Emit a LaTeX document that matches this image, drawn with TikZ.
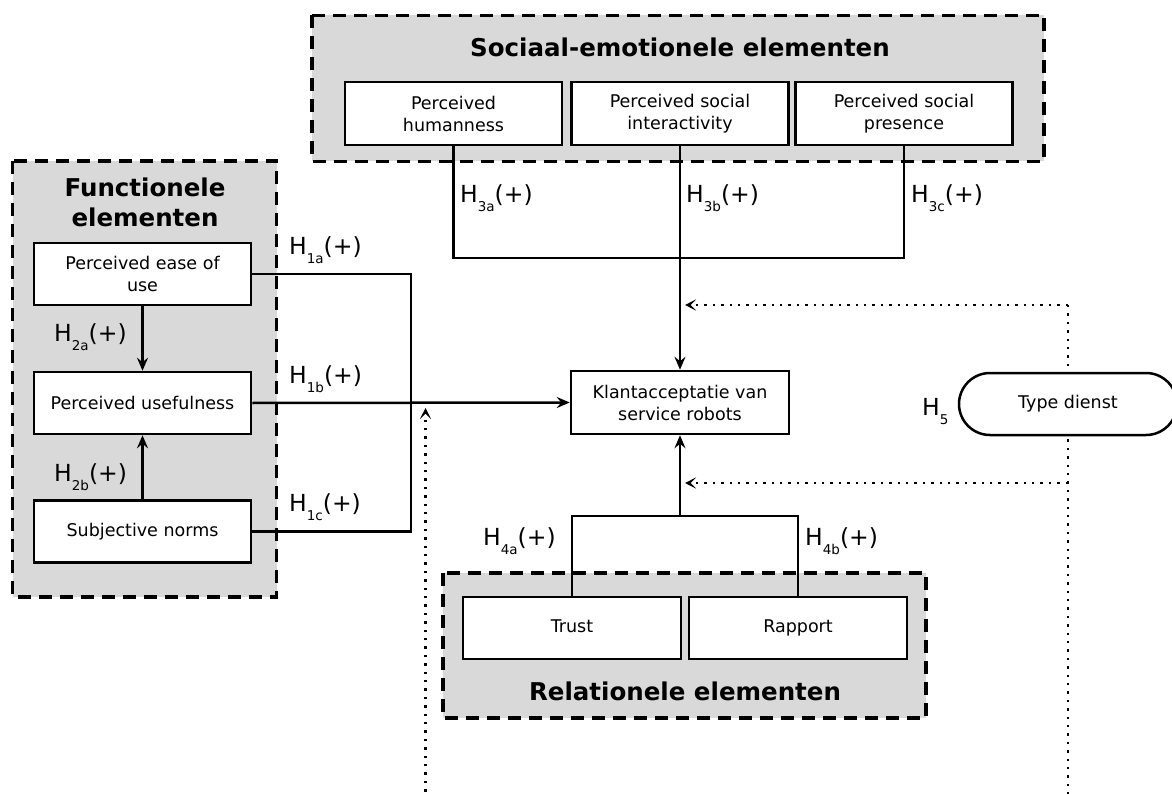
\documentclass[tikz,border=0pt]{standalone}
\usepackage{fontspec}
\setmainfont{DejaVu Sans}
\usetikzlibrary{arrows.meta}
\definecolor{grayfill}{HTML}{D9D9D9}
\newcommand{\Hyp}[1]{H\raisebox{-9pt}{\fontsize{13.5}{13.5}\selectfont #1}(+)}
\newcommand{\Hsub}[1]{H\raisebox{-9pt}{\fontsize{13.5}{13.5}\selectfont #1}}
\begin{document}
\begin{tikzpicture}[x=1pt,y=-1pt,
  grp/.style={draw, line width=3.6pt, dash pattern=on 13pt off 8pt, fill=grayfill},
  box/.style={draw, line width=2.5pt, fill=white, minimum width=217pt, minimum height=62pt,
    align=center, inner sep=0pt, font=\fontsize{17.5}{22}\selectfont},
  ttl/.style={font=\fontsize{24.5}{30}\selectfont\bfseries, align=center, inner sep=0pt},
  hlab/.style={font=\fontsize{23.5}{23.5}\selectfont, anchor=base west, inner sep=0pt},
  conn/.style={line width=2.5pt},
  arr/.style={line width=2.5pt, -{Stealth[length=13pt,width=11pt,inset=4.5pt]}},
  dotl/.style={line width=2.6pt, dash pattern=on 2.4pt off 6pt},
  dotarr/.style={dotl, -{Stealth[length=11pt,width=11pt,inset=5.5pt]}, shorten >=5pt}
]
\path[use as bounding box, fill=white] (0,0) rectangle (1172,794);
\clip (0,0) rectangle (1172,794);

% groups
\path[grp] (12.5,161) rectangle (276.5,597);
\path[grp] (312,15.5) rectangle (1044,161.5);
\path[grp] (443,573) rectangle (926,718);

% titles
\node[ttl, anchor=base] (tS) at (680,57) {Sociaal-emotionele elementen};
\node[ttl, anchor=base] (tF1) at (145,197) {Functionele};
\node[ttl, anchor=base] (tF2) at (145,227) {elementen};
\node[ttl, anchor=base] (tR) at (685,700) {Relationele elementen};

% boxes
\node[box] (ease) at (142.5,274) {Perceived ease of\\use};
\node[box] (useful) at (142.5,403) {Perceived usefulness};
\node[box] (subj) at (142.5,531.5) {Subjective norms};
\node[box, minimum height=63pt] (hum) at (453.5,113.5) {Perceived\\humanness};
\node[box, minimum height=63pt] (inter) at (680,113.5) {Perceived social\\interactivity};
\node[box, minimum height=63pt] (pres) at (904,113.5) {Perceived social\\presence};
\node[box, minimum width=218pt, minimum height=63pt] (klant) at (680,402.5) {Klantacceptatie van\\service robots};
\node[box, minimum width=218pt] (trust) at (572,628) {Trust\vphantom{p}};
\node[box, minimum width=218pt] (rapport) at (798,628) {Rapport};

% junction coordinates
\coordinate (jx) at (411,0);
\coordinate (tj) at (680,258);
\coordinate (bj) at (680,516);
\coordinate (d1) at (1068,305);
\coordinate (d2) at (1068,483);
\coordinate (dbot) at (1068,800);
\coordinate (lbot) at (425.5,800);

% functional connectors
\draw[conn] (ease.east) -| (jx |- subj.east) -- (subj.east);
\draw[arr] (useful.east) -- (klant.west);
\draw[arr] (ease.south) -- (useful.north);
\draw[arr] (subj.north) -- (useful.south);

% social connectors
\draw[conn] (hum.south) |- (pres.south |- tj) -- (pres.south);
\draw[conn] (inter.south) -- (tj);
\draw[arr] (tj) -- (klant.north);

% relational connectors
\draw[conn] (trust.north) |- (rapport.north |- bj) -- (rapport.north);
\draw[arr] (bj) -- (klant.south);

% moderator dotted lines
\draw[dotl] (d1) -- (dbot);
\draw[dotarr] (d1) -- (d1 -| klant.north);
\draw[dotarr] (d2) -- (d2 -| klant.south);
\draw[dotarr] (lbot) -- (lbot |- useful.east);

\node[draw, line width=2.5pt, fill=white, rounded corners=31pt, minimum width=218pt,
  minimum height=62pt, inner sep=0pt, font=\fontsize{17.5}{22}\selectfont] (type) at (1068,404) {Type dienst};

% labels
\node[hlab] (h1a) at (289,255) {\Hyp{1a}};
\node[hlab] (h1b) at (289,383) {\Hyp{1b}};
\node[hlab] (h1c) at (289,511.5) {\Hyp{1c}};
\node[hlab] (h2a) at (54,341.5) {\Hyp{2a}};
\node[hlab] (h2b) at (54,481.5) {\Hyp{2b}};
\node[hlab] (h3a) at (460,203) {\Hyp{3a}};
\node[hlab] (h3b) at (686,203) {\Hyp{3b}};
\node[hlab] (h3c) at (911,203) {\Hyp{3c}};
\node[hlab] (h4a) at (483,545) {\Hyp{4a}};
\node[hlab] (h4b) at (805,545) {\Hyp{4b}};
\node[hlab] (h5) at (922,415) {\Hsub{5}};
\end{tikzpicture}
\end{document}
